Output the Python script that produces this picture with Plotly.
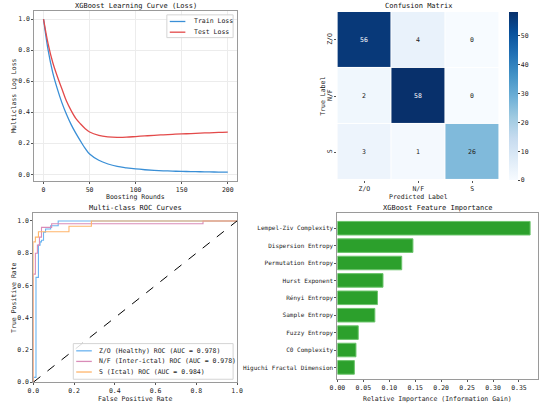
import plotly.graph_objects as go
import plotly.colors as pc

FONT = "DejaVu Sans Mono"
W, H = 550, 408

# learning curve
rounds = [0, 5, 10, 15, 20, 25, 30, 35, 40, 45, 50, 60, 70, 80, 90, 100,
          110, 120, 130, 140, 150, 160, 170, 180, 190, 200]
train_loss = [1.0, 0.80, 0.655, 0.55, 0.46, 0.385, 0.32, 0.265, 0.215, 0.168, 0.13,
              0.09, 0.066, 0.05, 0.041, 0.034, 0.029, 0.025, 0.022, 0.020, 0.018,
              0.017, 0.016, 0.015, 0.014, 0.013]
test_loss = [1.0, 0.84, 0.72, 0.63, 0.55, 0.47, 0.41, 0.36, 0.325, 0.295, 0.272,
             0.25, 0.241, 0.238, 0.239, 0.243, 0.247, 0.251, 0.254, 0.257, 0.260,
             0.262, 0.265, 0.267, 0.270, 0.272]

# confusion matrix
class_labels = ["Z/O", "N/F", "S"]
cm = [[56, 4, 0],
      [2, 58, 0],
      [3, 1, 26]]

# ROC curves
fpr_zo = [0, 0, 0.013, 0.013, 0.025, 0.025, 0.033, 0.033, 0.04, 0.04, 0.05, 0.05,
          0.06, 0.06, 0.085, 0.085, 0.122, 0.122, 1.0]
tpr_zo = [0, 0.03, 0.03, 0.65, 0.65, 0.85, 0.85, 0.87, 0.87, 0.88, 0.88, 0.93,
          0.93, 0.95, 0.95, 0.97, 0.97, 1.0, 1.0]
fpr_nf = [0, 0, 0.01, 0.01, 0.02, 0.02, 0.03, 0.03, 0.04, 0.04, 0.09, 0.09, 0.833, 0.833, 1.0]
tpr_nf = [0, 0.67, 0.67, 0.80, 0.80, 0.85, 0.85, 0.90, 0.90, 0.96, 0.96, 0.983, 0.983, 1.0, 1.0]
fpr_s = [0, 0, 0.01, 0.01, 0.025, 0.025, 0.175, 0.175, 0.285, 0.285, 1.0]
tpr_s = [0, 0.87, 0.87, 0.90, 0.90, 0.933, 0.933, 0.967, 0.967, 1.0, 1.0]
roc_names = ["Z/O (Healthy) ROC (AUC = 0.978)",
             "N/F (Inter-ictal) ROC (AUC = 0.978)",
             "S (Ictal) ROC (AUC = 0.984)"]

# feature importance (bottom to top)
features = ["Higuchi Fractal Dimension", "C0 Complexity", "Fuzzy Entropy",
            "Sample Entropy", "Rényi Entropy", "Hurst Exponent",
            "Permutation Entropy", "Dispersion Entropy", "Lempel-Ziv Complexity"]
importance = [0.0327, 0.0358, 0.0402, 0.0722, 0.0772, 0.0879, 0.124, 0.1456, 0.3715]


def px_x(p):
    return p / W


def px_y(p):
    return 1 - p / H


def add_text(fig, txt, cx, cy, size=6.5, angle=0, color="#222222", anchor="center"):
    fig.add_annotation(text=txt, x=px_x(cx), y=px_y(cy), xref="paper", yref="paper",
                       xanchor=anchor, yanchor="middle", showarrow=False,
                       textangle=angle, font=dict(family=FONT, size=size, color=color))


def add_legend(fig, box, items, x0, x1, tx):
    # box = (left, top, right, bottom) in pixels, items = [(name, color, y)]
    fig.add_shape(type="rect", xref="paper", yref="paper",
                  x0=px_x(box[0]), x1=px_x(box[2]), y0=px_y(box[3]), y1=px_y(box[1]),
                  line=dict(color="#d4d4d4", width=1), fillcolor="rgba(255,255,255,0.85)",
                  layer="above")
    for name, color, y in items:
        fig.add_shape(type="line", xref="paper", yref="paper",
                      x0=px_x(x0), x1=px_x(x1), y0=px_y(y), y1=px_y(y),
                      line=dict(color=color, width=1.3), layer="above")
        add_text(fig, name, tx, y, anchor="left")


fig = go.Figure()

train_color, test_color = "#3a8fd6", "#e34a4a"
fig.add_trace(go.Scatter(x=rounds, y=train_loss, mode="lines", name="Train Loss",
                         line=dict(color=train_color, width=1.3, shape="spline"),
                         xaxis="x", yaxis="y", showlegend=False))
fig.add_trace(go.Scatter(x=rounds, y=test_loss, mode="lines", name="Test Loss",
                         line=dict(color=test_color, width=1.3, shape="spline"),
                         xaxis="x", yaxis="y", showlegend=False))

text_colors = [["white" if v > 30 else "#222222" for v in row] for row in cm]
fig.add_trace(go.Heatmap(z=cm, x=class_labels, y=class_labels,
                         colorscale=pc.sequential.Blues, zmin=0, zmax=58,
                         xgap=1, ygap=1, showscale=True,
                         xaxis="x2", yaxis="y2",
                         colorbar=dict(x=px_x(514), xanchor="left", xpad=0,
                                       y=px_y(182), yanchor="bottom", ypad=0,
                                       len=170 / H, lenmode="fraction",
                                       thickness=9, thicknessmode="pixels",
                                       outlinewidth=0, tickvals=[0, 10, 20, 30, 40, 50],
                                       ticks="outside", ticklen=2,
                                       tickfont=dict(family=FONT, size=6.5, color="#222"))))
for i, row in enumerate(cm):
    for j, v in enumerate(row):
        fig.add_annotation(x=class_labels[j], y=class_labels[i], text=str(v),
                           xref="x2", yref="y2", showarrow=False,
                           font=dict(family=FONT, size=6.5, color=text_colors[i][j]))

roc_colors = ["#6cb4f0", "#d98cb8", "#ffb56b"]
for fx, ty, nm, c in zip([fpr_zo, fpr_nf, fpr_s], [tpr_zo, tpr_nf, tpr_s], roc_names, roc_colors):
    fig.add_trace(go.Scatter(x=fx, y=ty, mode="lines", name=nm,
                             line=dict(color=c, width=1.1),
                             xaxis="x3", yaxis="y3", showlegend=False))
fig.add_trace(go.Scatter(x=[0, 1], y=[0, 1], mode="lines", showlegend=False,
                         line=dict(color="black", width=1, dash="dash"),
                         xaxis="x3", yaxis="y3"))

fig.add_trace(go.Bar(x=importance, y=features, orientation="h", width=0.78,
                     marker=dict(color="#2ca02c", line=dict(color="#6cc46c", width=1)),
                     showlegend=False, xaxis="x4", yaxis="y4"))

tick_font = dict(family=FONT, size=6.5, color="#222222")
frame = dict(showline=True, linecolor="#9a9a9a", linewidth=1, mirror=True,
             ticks="outside", ticklen=2, tickcolor="#555", tickfont=tick_font,
             zeroline=False)

fig.update_layout(
    width=W, height=H, margin=dict(l=0, r=0, t=0, b=0),
    paper_bgcolor="white", plot_bgcolor="white", showlegend=False,
    font=dict(family=FONT, size=6.5, color="#222222"),
    xaxis=dict(domain=[px_x(27), px_x(235)], range=[-10, 210], anchor="y",
               tickvals=[0, 50, 100, 150, 200], showgrid=True, gridcolor="#ececec",
               gridwidth=0.6, **frame),
    yaxis=dict(domain=[px_y(183), px_y(11)], range=[-0.045, 1.053], anchor="x",
               tickvals=[0, 0.2, 0.4, 0.6, 0.8, 1.0], tickformat=".1f",
               showgrid=True, gridcolor="#ececec", gridwidth=0.6, **frame),
    xaxis2=dict(domain=[px_x(338), px_x(504)], anchor="y2", showline=False,
                ticks="outside", ticklen=2, tickcolor="#555", tickfont=tick_font),
    yaxis2=dict(domain=[px_y(182), px_y(12)], anchor="x2", autorange="reversed",
                showline=False, ticks="outside", ticklen=2, tickcolor="#555",
                tickangle=-90, tickfont=tick_font),
    xaxis3=dict(domain=[px_x(26), px_x(235)], range=[0, 1], anchor="y3",
                tickvals=[0, 0.2, 0.4, 0.6, 0.8, 1.0], tickformat=".1f",
                showgrid=False, **frame),
    yaxis3=dict(domain=[px_y(386), px_y(215)], range=[0, 1.05], anchor="x3",
                tickvals=[0, 0.2, 0.4, 0.6, 0.8, 1.0], tickformat=".1f",
                showgrid=False, **frame),
    xaxis4=dict(domain=[px_x(338), px_x(544)], range=[0, 0.387], anchor="y4",
                tickvals=[0, 0.05, 0.1, 0.15, 0.2, 0.25, 0.3, 0.35], tickformat=".2f",
                showgrid=False, **frame),
    yaxis4=dict(domain=[px_y(383), px_y(215)], range=[-0.68, 8.88], anchor="x4",
                showgrid=False, **{**frame, "tickfont": dict(family=FONT, size=6, color="#222")}),
)

add_legend(fig, (163, 15, 231, 38),
           [("Train Loss", train_color, 21.7), ("Test Loss", test_color, 32.5)],
           166, 182, 189)
add_legend(fig, (67, 347, 231, 383),
           [(roc_names[0], roc_colors[0], 354.3), (roc_names[1], roc_colors[1], 365),
            (roc_names[2], roc_colors[2], 375.7)],
           70, 86, 91)

add_text(fig, "XGBoost Learning Curve (Loss)", 131, 6, size=7, color="#111")
add_text(fig, "Confusion Matrix", 421, 6, size=7, color="#111")
add_text(fig, "Multi-class ROC Curves", 130.5, 210, size=7, color="#111")
add_text(fig, "XGBoost Feature Importance", 441, 210, size=7, color="#111")

add_text(fig, "Boosting Rounds", 131, 198.5)
add_text(fig, "Multiclass Log Loss", 6, 97, angle=-90)
add_text(fig, "Predicted Label", 421, 198.5)
add_text(fig, "True Label", 323, 97, angle=-90)
add_text(fig, "False Positive Rate", 130.5, 402.5)
add_text(fig, "True Positive Rate", 6, 300, angle=-90)
add_text(fig, "Relative Importance (Information Gain)", 441, 402.5)

page_fix = ("document.documentElement.style.overflow='hidden';"
            "document.body.style.overflow='hidden';"
            "document.body.style.margin='0px';")
fig.write_html("out.html", config={"displayModeBar": False}, post_script=page_fix)
